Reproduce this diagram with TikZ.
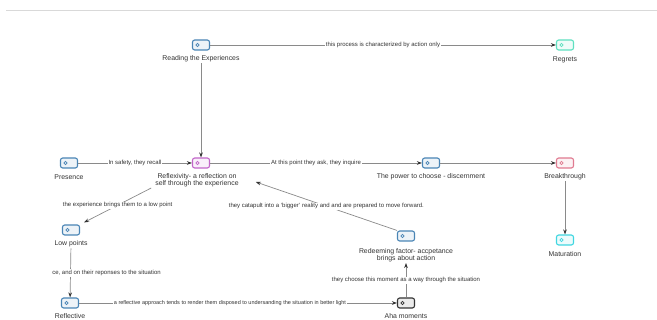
\documentclass[tikz,border=0pt]{standalone}
\usepackage{fontspec}
\setmainfont{Liberation Sans}
\usetikzlibrary{arrows.meta}
\definecolor{edgegray}{HTML}{8A8A8A}
\definecolor{cblue}{HTML}{4A85B5}
\definecolor{cmint}{HTML}{5EE0C0}
\definecolor{corchid}{HTML}{C266C9}
\definecolor{cpink}{HTML}{E07A90}
\definecolor{ccyan}{HTML}{3FD6E0}
\definecolor{cdark}{HTML}{333333}
\tikzset{
  icon/.style={draw=#1, fill=#1!10, line width=1.1pt, rounded corners=2.2pt,
    minimum width=17pt, minimum height=10pt, inner sep=0pt,
    path picture={\draw[#1, line width=0.7pt] ([xshift=5pt]path picture bounding box.west) circle (1.6pt);}},
  lab/.style={font=\fontsize{6.9}{7.2}\selectfont, align=center, inner sep=1pt, text=black!80},
  elab/.style={font=\fontsize{6.0}{6.4}\selectfont, fill=white, inner sep=0.8pt, text=black!80},
  conn/.style={draw=edgegray, line width=0.7pt, -{Stealth[length=5pt,width=3.6pt,color=black!80]}},
}
\begin{document}
\begin{tikzpicture}[x=1pt,y=-1pt]
\useasboundingbox (0,0) rectangle (657,320);
\draw[black!15, line width=1pt] (6,11) -- (657,11);
% icons
\node[icon=cblue]   (rd) at (201,45)  {};
\node[icon=cmint]   (rg) at (565,45)  {};
\node[icon=cblue]   (pr) at (69,163)  {};
\node[icon=corchid] (rf) at (201,163) {};
\node[icon=cblue]   (pw) at (431,163) {};
\node[icon=cpink]   (bk) at (565,163) {};
\node[icon=ccyan]   (mt) at (565,240) {};
\node[icon=cblue]   (lp) at (71,230)  {};
\node[icon=cblue]   (rm) at (406,236) {};
\node[icon=cblue]   (rv) at (70,303)  {};
\node[icon=cdark]   (ah) at (406,303) {};
% labels
\node[lab] (rdL) at (201,59)  {Reading the Experiences};
\node[lab] (rgL) at (565,60)  {Regrets};
\node[lab] (prL) at (69,177)  {Presence};
\node[lab] (rfL) at (197,180) {Reflexivity- a reflection on\\self through the experience};
\node[lab] (pwL) at (431,177) {The power to choose - discernment};
\node[lab] (bkL) at (565,177) {Breakthrough};
\node[lab] (mtL) at (565,254) {Maturation};
\node[lab] (lpL) at (71,244)  {Low points};
\node[lab] (rmL) at (406,255) {Redeeming factor- accpetance\\brings about action};
\node[lab] (rvL) at (70,316)  {Reflective};
\node[lab] (ahL) at (406,316) {Aha moments};
% connectors
\draw[conn] (rd) -- node[elab]{this process is characterized by action only} (rg);
\draw[conn] (rdL) -- (rf);
\draw[conn] (pr) -- node[elab]{In safety, they recall} (rf);
\draw[conn] (rf) -- node[elab]{At this point they ask, they inquire} (pw);
\draw[conn] (pw) -- (bk);
\draw[conn] (bkL) -- (mt);
\draw[conn] ([xshift=-3pt]rfL.south west) -- node[elab]{the experience brings them to a low point} ([xshift=4pt,yshift=2pt]lp.north east);
\draw[conn] (rm.north west) -- node[elab]{they catapult into a `bigger' reality and and are prepared to move forward.} ([xshift=16pt,yshift=-2pt]rfL.east);
\draw[conn] (lpL) -- node[elab, xshift=36pt]{ce, and on their reponses to the situation} (rv);
\draw[conn] (rv) -- node[elab, font=\fontsize{5.5}{6}\selectfont, xshift=-8pt]{a reflective approach tends to render them disposed to undersanding the situation in better light} (ah);
\draw[conn] (ah) -- node[elab]{they choose this moment as a way through the situation} (rmL);
\end{tikzpicture}
\end{document}
